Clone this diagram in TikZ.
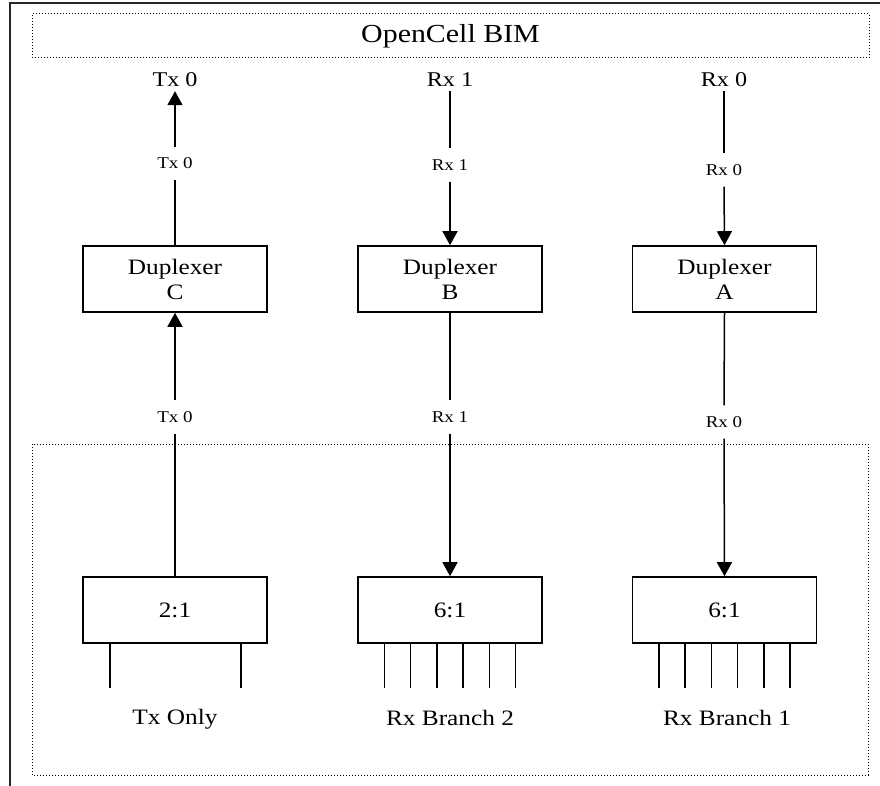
\documentclass[tikz,border=0pt]{standalone}
\usepackage{fontspec}
\setmainfont{Liberation Serif}[FakeStretch=1.15]
\usetikzlibrary{arrows.meta}
\begin{document}
\begin{tikzpicture}[x=1pt,y=-1pt,
  box/.style={draw,line width=1.6pt,minimum width=184pt,minimum height=66pt,inner sep=0pt,font=\fontsize{22}{25}\selectfont,align=center},
  toplbl/.style={inner sep=0pt,minimum height=22pt,font=\fontsize{21}{25}\selectfont},
  sml/.style={inner sep=0pt,minimum height=33pt,font=\fontsize{16.5}{20}\selectfont},
  lbl/.style={inner sep=0pt,font=\fontsize{22}{25}\selectfont},
  conn/.style={line width=1.5pt},
  arr/.style={conn,-{Triangle[length=14pt,width=15pt]}},
  leg/.style={line width=1.5pt},
  dots/.style={line width=1pt,dash pattern=on 1pt off 2pt}]
\useasboundingbox (0,0) rectangle (880,786);
% outer frame
\draw[line width=2pt,black!85] (880,3) -- (9.5,3) -- (9.5,786);
% title box
\node[draw,dots,minimum width=837pt,minimum height=44pt,inner sep=0pt,font=\fontsize{26}{30}\selectfont] (title) at (450.5,36) {OpenCell BIM};
% lower dotted region
\draw[dots] (32,444) rectangle (868,775);
% top labels
\node[toplbl] (tC) at (175,80) {Tx 0};
\node[toplbl] (tB) at (450,80) {Rx 1};
\node[toplbl] (tA) at (724,80) {Rx 0};
% duplexers
\node[box] (dC) at (175,279) {Duplexer\\C};
\node[box] (dB) at (450,279) {Duplexer\\B};
\node[box] (dA) at (724.5,279) {Duplexer\\A};
% muxes
\node[box] (mC) at (175,610) {2:1};
\node[box] (mB) at (450,610) {6:1};
\node[box] (mA) at (724.5,610) {6:1};
% small labels
\node[sml] (sC1) at (175,163.5) {Tx 0};
\node[sml] (sB1) at (450,165) {Rx 1};
\node[sml] (sA1) at (724,170) {Rx 0};
\node[sml] (sC2) at (175,417) {Tx 0};
\node[sml] (sB2) at (450,417) {Rx 1};
\node[sml] (sA2) at (724,422) {Rx 0};
% connectors
\draw[conn] (dC.north) -- (sC1.south);
\draw[arr] (sC1.north) -- (tC.south);
\draw[conn] (tB.south) -- (sB1.north);
\draw[arr] (sB1.south) -- (dB.north);
\draw[conn] (tA.south) -- (sA1.north);
\draw[arr] (sA1.south) -- (dA.north);
\draw[conn] (mC.north) -- (sC2.south);
\draw[arr] (sC2.north) -- (dC.south);
\draw[conn] (dB.south) -- (sB2.north);
\draw[arr] (sB2.south) -- (mB.north);
\draw[conn] (dA.south) -- (sA2.north);
\draw[arr] (sA2.south) -- (mA.north);
% legs
\foreach \dx in {-65,66} \draw[leg] ([xshift=\dx pt]mC.south) -- ++(0,44);
\foreach \dx in {-65.5,-39.3,-13.1,13.1,39.3,65.5} {
  \draw[leg] ([xshift=\dx pt]mB.south) -- ++(0,44);
  \draw[leg] ([xshift=\dx pt]mA.south) -- ++(0,44);
}
% bottom labels
\node[lbl] (bC) at (175,719) {Tx Only};
\node[lbl] (bB) at (450,718) {Rx Branch 2};
\node[lbl] (bA) at (727,718) {Rx Branch 1};
\end{tikzpicture}
\end{document}
